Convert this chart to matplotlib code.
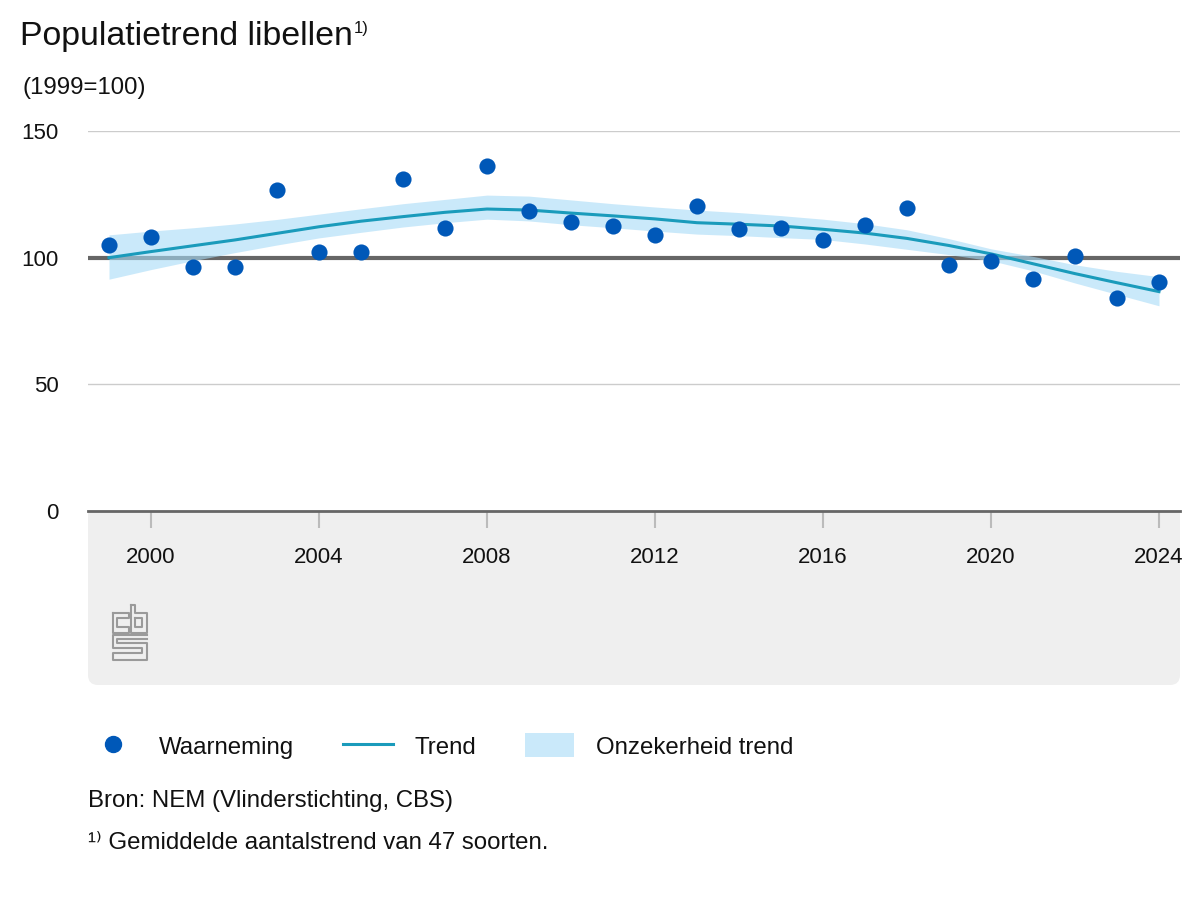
import numpy as np
import matplotlib
matplotlib.use("Agg")
import matplotlib.pyplot as plt
from matplotlib.patches import FancyBboxPatch, Patch
from matplotlib.lines import Line2D

plt.rcParams['font.family'] = ['Liberation Sans', 'DejaVu Sans']

# Gegevens
jaren = list(range(1999, 2025))
waarneming = [105.0, 108.2, 96.3, 96.3, 126.7, 102.2, 102.2, 131.1, 111.7, 136.2,
              118.4, 114.1, 112.5, 109.0, 120.4, 111.3, 111.7, 107.0, 112.9, 119.6,
              97.1, 98.7, 91.6, 100.7, 84.1, 90.4]
trend = [100.0, 102.4, 104.7, 107.0, 109.6, 112.2, 114.4, 116.2, 117.9, 119.2,
         118.8, 117.6, 116.5, 115.3, 113.8, 113.2, 112.5, 111.2, 109.7, 107.6,
         104.8, 101.5, 97.6, 93.7, 90.1, 86.6]
boven = [109.0, 110.5, 111.8, 113.3, 115.1, 117.2, 119.3, 121.3, 123.0, 124.7,
         124.3, 122.8, 121.3, 120.0, 118.8, 117.8, 116.6, 115.2, 113.4, 111.0,
         107.5, 103.5, 100.5, 97.2, 94.6, 92.5]
onder = [91.5, 95.3, 98.8, 102.0, 105.0, 107.8, 110.0, 112.1, 113.8, 115.2,
         114.5, 113.0, 111.8, 110.5, 109.3, 108.7, 107.9, 107.2, 105.4, 103.3,
         101.2, 98.8, 94.8, 90.0, 85.5, 81.0]
x_ticks = [2000, 2004, 2008, 2012, 2016, 2020, 2024]
y_ticks = [0, 50, 100, 150]

blauw = '#0058b8'
trend_kleur = '#1a9bbb'
band_kleur = '#a8dbf7'
tekst_kleur = '#111111'

W, H = 1200, 900
fig = plt.figure(figsize=(12, 9), dpi=100)


def px(x, y):
    # pixelpositie (vanaf linksboven) -> inches voor dpi_scale_trans
    return x / 100, (H - y) / 100


# grijs paneel onder de x-as
x0, y0 = px(88, 685)
paneel = FancyBboxPatch((x0, y0), (1180 - 88) / 100, (685 - 500) / 100,
                        boxstyle="round,pad=0,rounding_size=0.1",
                        transform=fig.dpi_scale_trans, facecolor='#efefef',
                        edgecolor='none', zorder=-1)
fig.add_artist(paneel)

ax = fig.add_axes([88 / W, 1 - 511 / H, (1180 - 88) / W, (511 - 131) / H])
ax.set_facecolor('white')

ax.fill_between(jaren, onder, boven, color=band_kleur, alpha=0.6, lw=0, zorder=3)
ax.axhline(100, color='#666666', lw=3, zorder=2)
ax.plot(jaren, trend, color=trend_kleur, lw=2.2, zorder=4)
ax.scatter(jaren, waarneming, s=135, color=blauw, zorder=5, linewidths=0)

ax.set_xlim(1998.5, 2024.5)
ax.set_ylim(0, 150)
ax.set_xticks(x_ticks)
ax.set_yticks(y_ticks)
ax.yaxis.grid(True, color='#cccccc', lw=1)
ax.set_axisbelow(True)

for s in ['left', 'right', 'top']:
    ax.spines[s].set_visible(False)
ax.spines['bottom'].set_color('#666666')
ax.spines['bottom'].set_linewidth(2)
ax.spines['bottom'].set_zorder(6)

ax.tick_params(axis='x', length=12, width=1.5, color='#bbbbbb', pad=14,
               labelsize=16, labelcolor=tekst_kleur)
ax.tick_params(axis='y', length=0, pad=21, labelsize=16, labelcolor=tekst_kleur)

# titels
titel = fig.text(20 / W, 1 - 36 / H, 'Populatietrend libellen', fontsize=24.4,
                 va='center', ha='left', color=tekst_kleur)
fig.canvas.draw()
bb = titel.get_window_extent()
fig.text(bb.x1 / W + 1 / W, 1 - 29 / H, '1)', fontsize=12, va='center', ha='left',
         color=tekst_kleur)
fig.text(22 / W, 1 - 88 / H, '(1999=100)', fontsize=17.3, va='center',
         ha='left', color=tekst_kleur)

# cbs-logo (benadering met lijnen, coordinaten in 1/3 pixel vanaf (108, 600))
logo = [
    [(15, 40), (62, 40), (62, 55), (28, 55), (28, 82), (62, 82), (62, 98), (15, 98), (15, 40)],
    [(68, 15), (82, 15), (82, 40), (118, 40), (118, 98), (68, 98), (68, 15)],
    [(82, 55), (103, 55), (103, 82), (82, 82), (82, 55)],
    [(118, 118), (28, 118), (28, 130), (118, 130), (118, 180), (15, 180), (15, 158),
     (103, 158), (103, 145), (15, 145), (15, 105), (118, 105)],
]
for pad in logo:
    xs = [px(zx / 3 + 108, zy / 3 + 600)[0] for zx, zy in pad]
    ys = [px(zx / 3 + 108, zy / 3 + 600)[1] for zx, zy in pad]
    fig.add_artist(Line2D(xs, ys, transform=fig.dpi_scale_trans,
                          color='#9a9a9a', lw=1.5))

# legenda
handles = [
    Line2D([], [], marker='o', ls='none', color=blauw, markersize=11.5),
    Line2D([], [], color=trend_kleur, lw=2.2),
    Patch(facecolor=band_kleur, alpha=0.6, edgecolor='none'),
]
labels = ['Waarneming', 'Trend', 'Onzekerheid trend']
fig.legend(handles, labels, loc='center left', bbox_to_anchor=(88 / W, 1 - 746 / H),
           ncol=3, frameon=False, fontsize=17.3, handlelength=2.05,
           handletextpad=0.9, columnspacing=2.05, borderpad=0, borderaxespad=0,
           handleheight=1.15, labelcolor=tekst_kleur)

fig.text(88 / W, 1 - 801 / H, 'Bron: NEM (Vlinderstichting, CBS)', fontsize=17.3,
         va='center', ha='left', color=tekst_kleur)
fig.text(88 / W, 1 - 843 / H, '¹⁾ Gemiddelde aantalstrend van 47 soorten.',
         fontsize=17.3, va='center', ha='left', color=tekst_kleur)

fig.savefig('out.png', dpi=100, facecolor='white')
